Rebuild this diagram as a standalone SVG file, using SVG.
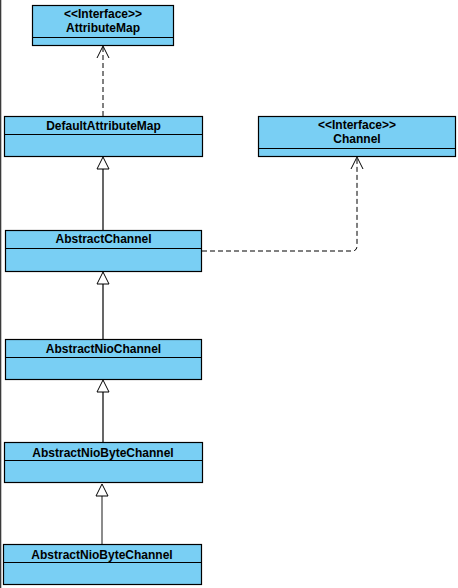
<svg xmlns="http://www.w3.org/2000/svg" width="458" height="588" viewBox="0 0 458 588">
<defs>
<style>
.box{fill:#79CFF4;stroke:#000;stroke-width:1.2}
.sep{stroke:#000;stroke-width:1.2}
.t{font-family:"Liberation Sans",Arial,sans-serif;font-size:12px;font-weight:bold;fill:#000;text-anchor:middle}
.dash{fill:none;stroke:#000;stroke-width:1;stroke-dasharray:5 3}
.open{fill:none;stroke:#000;stroke-width:1}
.gen{fill:none;stroke:#000;stroke-width:1.2}
.tri{fill:#fff;stroke:#000;stroke-width:1}
</style>
</defs>
<rect x="0" y="0" width="458" height="588" fill="#fff"/>
<rect x="0" y="0" width="1.3" height="588" fill="#3a3a3a"/>
<g id="connectors">
<path class="dash" d="M103,116 V47"/>
<polyline class="open" points="97,58 103,46 109,58"/>
<line class="gen" x1="103" y1="230" x2="103" y2="169"/>
<polygon class="tri" points="103,157 97,169 109,169"/>
<path class="dash" d="M202,251 H352 Q357,251 357,246 V158"/>
<polyline class="open" points="351,169 357,157 363,169"/>
<line class="gen" x1="103" y1="339" x2="103" y2="284"/>
<polygon class="tri" points="103,272 97,284 109,284"/>
<line class="gen" x1="103" y1="442" x2="103" y2="392"/>
<polygon class="tri" points="103,380 97,392 109,392"/>
<line x1="102" y1="544" x2="102" y2="496" stroke="#666" stroke-width="1.5"/>
<polygon class="tri" points="102,484 96,496 108,496"/>
</g>
<g id="AttributeMap">
<rect class="box" x="32.5" y="5.5" width="141" height="40"/>
<line class="sep" x1="32.5" y1="37.5" x2="173.5" y2="37.5"/>
<text class="t" x="103" y="18">&lt;&lt;Interface&gt;&gt;</text>
<text class="t" x="103" y="31.5">AttributeMap</text>
</g>
<g id="DefaultAttributeMap">
<rect class="box" x="4.5" y="116.5" width="198" height="40"/>
<line class="sep" x1="4.5" y1="134.5" x2="202.5" y2="134.5"/>
<text class="t" x="103.5" y="129.5">DefaultAttributeMap</text>
</g>
<g id="Channel">
<rect class="box" x="258.5" y="116.5" width="197" height="40"/>
<line class="sep" x1="258.5" y1="148.5" x2="455.5" y2="148.5"/>
<text class="t" x="357" y="129">&lt;&lt;Interface&gt;&gt;</text>
<text class="t" x="357" y="142.5">Channel</text>
</g>
<g id="AbstractChannel">
<rect class="box" x="5.5" y="230.5" width="196" height="41"/>
<line class="sep" x1="5.5" y1="248.5" x2="201.5" y2="248.5"/>
<text class="t" x="103.5" y="243">AbstractChannel</text>
</g>
<g id="AbstractNioChannel">
<rect class="box" x="5.5" y="339.5" width="196" height="40"/>
<line class="sep" x1="5.5" y1="357.5" x2="201.5" y2="357.5"/>
<text class="t" x="103.5" y="352.5">AbstractNioChannel</text>
</g>
<g id="AbstractNioByteChannel1">
<rect class="box" x="4.5" y="442.5" width="198" height="40"/>
<line class="sep" x1="4.5" y1="460.5" x2="202.5" y2="460.5"/>
<text class="t" x="103" y="457">AbstractNioByteChannel</text>
</g>
<g id="AbstractNioByteChannel2">
<rect class="box" x="3.5" y="544.5" width="198" height="40"/>
<line class="sep" x1="3.5" y1="562.5" x2="201.5" y2="562.5"/>
<text class="t" x="102" y="558.5">AbstractNioByteChannel</text>
</g>
</svg>
